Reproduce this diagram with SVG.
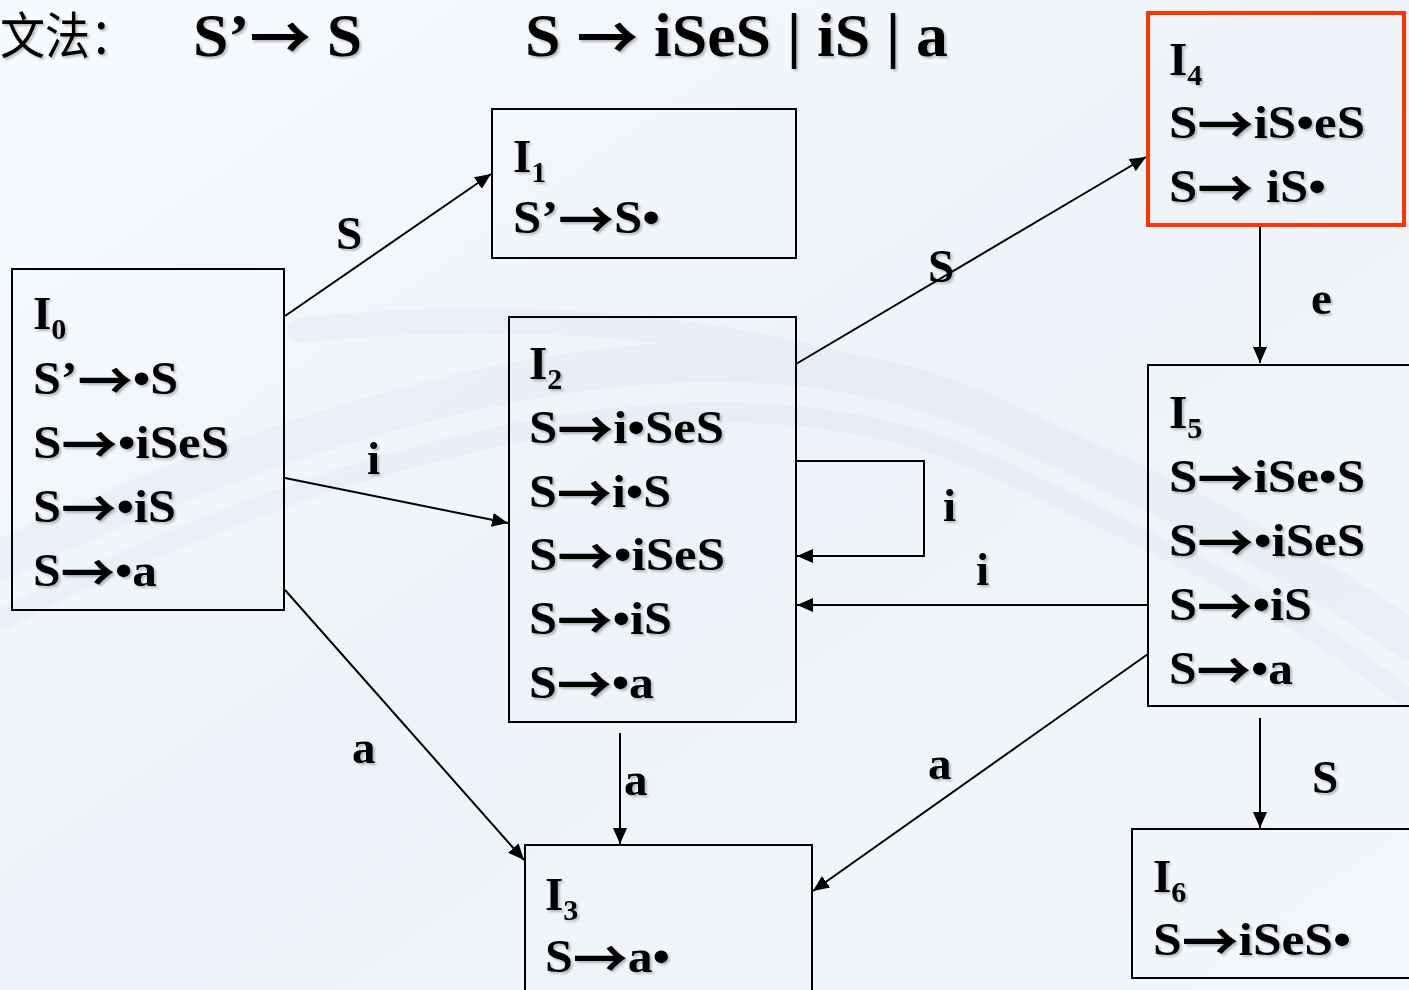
<svg xmlns="http://www.w3.org/2000/svg" width="1409" height="990" viewBox="0 0 1409 990">
<defs>
<linearGradient id="bg" x1="0" y1="0" x2="1" y2="1">
<stop offset="0" stop-color="#f8fbfe"/>
<stop offset="0.5" stop-color="#eef3f9"/>
<stop offset="1" stop-color="#f3f7fb"/>
</linearGradient>
<filter id="sh" x="-5%" y="-5%" width="110%" height="120%">
<feDropShadow dx="2" dy="2" stdDeviation="1" flood-color="#000" flood-opacity="0.25"/>
</filter>
<marker id="ah" markerUnits="userSpaceOnUse" markerWidth="18" markerHeight="14" refX="16" refY="7" orient="auto">
<path d="M0,0 L16,7 L0,14 Z" fill="#000"/>
</marker>
<style>
.t{font-family:"Liberation Serif","Times New Roman",serif;font-weight:bold;font-size:47px;fill:#000;}
.tt{font-size:62px;}
.sub{font-size:30px;}
.ar{font-family:"Noto Sans CJK SC",sans-serif;font-weight:bold;font-size:52px;}
.tt .ar{font-size:60px;}
.box{fill:none;stroke:#000;stroke-width:2;}
.edge{fill:none;stroke:#000;stroke-width:2;marker-end:url(#ah);}
.cjk{font-family:"Noto Sans CJK SC",sans-serif;font-size:50px;fill:#000;}
</style>
</defs>
<rect width="1409" height="990" fill="url(#bg)"/>
<g opacity="0.18" fill="none" stroke="#c9d6e6" stroke-linecap="round">
<path d="M0,560 C300,420 700,280 1000,420 C1150,490 1300,560 1409,640" stroke-width="40"/>
<path d="M0,620 C300,470 700,330 1000,470 C1150,540 1300,610 1409,700" stroke-width="20"/>
<path d="M300,330 C500,310 700,320 900,380" stroke-width="25"/>
</g>

<g id="title" filter="url(#sh)">
<text class="cjk" x="0" y="54" textLength="135" lengthAdjust="spacingAndGlyphs">文法：</text>
<text class="t tt" x="193" y="56" textLength="169" lengthAdjust="spacingAndGlyphs">S’<tspan class="ar" dy="4">→</tspan><tspan dy="-4"> S</tspan></text>
<text class="t tt" x="525" y="56" textLength="423" lengthAdjust="spacingAndGlyphs">S <tspan class="ar" dy="4">→</tspan><tspan dy="-4"> iSeS | iS | a</tspan></text>
</g>

<g id="edges">
<line class="edge" x1="285" y1="316" x2="491" y2="174"/>
<line class="edge" x1="285" y1="478" x2="508" y2="523"/>
<line class="edge" x1="285" y1="590" x2="524" y2="860"/>
<line class="edge" x1="620" y1="733" x2="620" y2="844"/>
<line class="edge" x1="796" y1="364" x2="1146" y2="157"/>
<polyline class="edge" points="796,461 924,461 924,556 797,556"/>
<line class="edge" x1="1148" y1="605" x2="797" y2="605"/>
<line class="edge" x1="1148" y1="654" x2="813" y2="891"/>
<line class="edge" x1="1260" y1="226" x2="1260" y2="363"/>
<line class="edge" x1="1260" y1="718" x2="1260" y2="828"/>
</g>

<g id="edge-labels" filter="url(#sh)">
<text class="t" x="336" y="249">S</text>
<text class="t" x="367" y="474">i</text>
<text class="t" x="352" y="763">a</text>
<text class="t" x="624" y="795">a</text>
<text class="t" x="928" y="282">S</text>
<text class="t" x="943" y="521">i</text>
<text class="t" x="976" y="585">i</text>
<text class="t" x="928" y="779">a</text>
<text class="t" x="1311" y="314">e</text>
<text class="t" x="1312" y="793">S</text>
</g>

<g id="I0">
<rect class="box" x="12" y="269" width="272" height="341"/>
<g filter="url(#sh)">
<text class="t" x="33" y="329">I<tspan class="sub" dy="10">0</tspan></text>
<text class="t" x="33" y="394" textLength="145" lengthAdjust="spacingAndGlyphs">S’<tspan class="ar" dy="6">→</tspan><tspan dy="-6">•S</tspan></text>
<text class="t" x="33" y="458" textLength="196" lengthAdjust="spacingAndGlyphs">S<tspan class="ar" dy="6">→</tspan><tspan dy="-6">•iSeS</tspan></text>
<text class="t" x="33" y="522" textLength="143" lengthAdjust="spacingAndGlyphs">S<tspan class="ar" dy="6">→</tspan><tspan dy="-6">•iS</tspan></text>
<text class="t" x="33" y="586" textLength="124" lengthAdjust="spacingAndGlyphs">S<tspan class="ar" dy="6">→</tspan><tspan dy="-6">•a</tspan></text>
</g>
</g>

<g id="I1">
<rect class="box" x="492" y="109" width="304" height="149"/>
<g filter="url(#sh)">
<text class="t" x="513" y="172">I<tspan class="sub" dy="10">1</tspan></text>
<text class="t" x="513" y="233" textLength="147" lengthAdjust="spacingAndGlyphs">S’<tspan class="ar" dy="6">→</tspan><tspan dy="-6">S•</tspan></text>
</g>
</g>

<g id="I2">
<rect class="box" x="509" y="317" width="287" height="405"/>
<g filter="url(#sh)">
<text class="t" x="529" y="379">I<tspan class="sub" dy="10">2</tspan></text>
<text class="t" x="529" y="443" textLength="195" lengthAdjust="spacingAndGlyphs">S<tspan class="ar" dy="6">→</tspan><tspan dy="-6">i•SeS</tspan></text>
<text class="t" x="529" y="507" textLength="142" lengthAdjust="spacingAndGlyphs">S<tspan class="ar" dy="6">→</tspan><tspan dy="-6">i•S</tspan></text>
<text class="t" x="529" y="570" textLength="196" lengthAdjust="spacingAndGlyphs">S<tspan class="ar" dy="6">→</tspan><tspan dy="-6">•iSeS</tspan></text>
<text class="t" x="529" y="634" textLength="143" lengthAdjust="spacingAndGlyphs">S<tspan class="ar" dy="6">→</tspan><tspan dy="-6">•iS</tspan></text>
<text class="t" x="529" y="698" textLength="125" lengthAdjust="spacingAndGlyphs">S<tspan class="ar" dy="6">→</tspan><tspan dy="-6">•a</tspan></text>
</g>
</g>

<g id="I3">
<rect class="box" x="525" y="845" width="287" height="160"/>
<g filter="url(#sh)">
<text class="t" x="545" y="910">I<tspan class="sub" dy="10">3</tspan></text>
<text class="t" x="545" y="972" textLength="125" lengthAdjust="spacingAndGlyphs">S<tspan class="ar" dy="6">→</tspan><tspan dy="-6">a•</tspan></text>
</g>
</g>

<g id="I4">
<rect x="1148" y="13" width="256" height="212" fill="none" stroke="#ff3300" stroke-width="4"/>
<g filter="url(#sh)">
<text class="t" x="1169" y="75">I<tspan class="sub" dy="10">4</tspan></text>
<text class="t" x="1169" y="138" textLength="196" lengthAdjust="spacingAndGlyphs">S<tspan class="ar" dy="6">→</tspan><tspan dy="-6">iS•eS</tspan></text>
<text class="t" x="1169" y="202" textLength="157" lengthAdjust="spacingAndGlyphs">S<tspan class="ar" dy="6">→</tspan><tspan dy="-6"> iS•</tspan></text>
</g>
</g>

<g id="I5">
<rect class="box" x="1148" y="365" width="270" height="341"/>
<g filter="url(#sh)">
<text class="t" x="1169" y="428">I<tspan class="sub" dy="10">5</tspan></text>
<text class="t" x="1169" y="492" textLength="196" lengthAdjust="spacingAndGlyphs">S<tspan class="ar" dy="6">→</tspan><tspan dy="-6">iSe•S</tspan></text>
<text class="t" x="1169" y="556" textLength="196" lengthAdjust="spacingAndGlyphs">S<tspan class="ar" dy="6">→</tspan><tspan dy="-6">•iSeS</tspan></text>
<text class="t" x="1169" y="620" textLength="143" lengthAdjust="spacingAndGlyphs">S<tspan class="ar" dy="6">→</tspan><tspan dy="-6">•iS</tspan></text>
<text class="t" x="1169" y="684" textLength="124" lengthAdjust="spacingAndGlyphs">S<tspan class="ar" dy="6">→</tspan><tspan dy="-6">•a</tspan></text>
</g>
</g>

<g id="I6">
<rect class="box" x="1132" y="829" width="290" height="149"/>
<g filter="url(#sh)">
<text class="t" x="1153" y="892">I<tspan class="sub" dy="10">6</tspan></text>
<text class="t" x="1153" y="955" textLength="198" lengthAdjust="spacingAndGlyphs">S<tspan class="ar" dy="6">→</tspan><tspan dy="-6">iSeS•</tspan></text>
</g>
</g>
</svg>
